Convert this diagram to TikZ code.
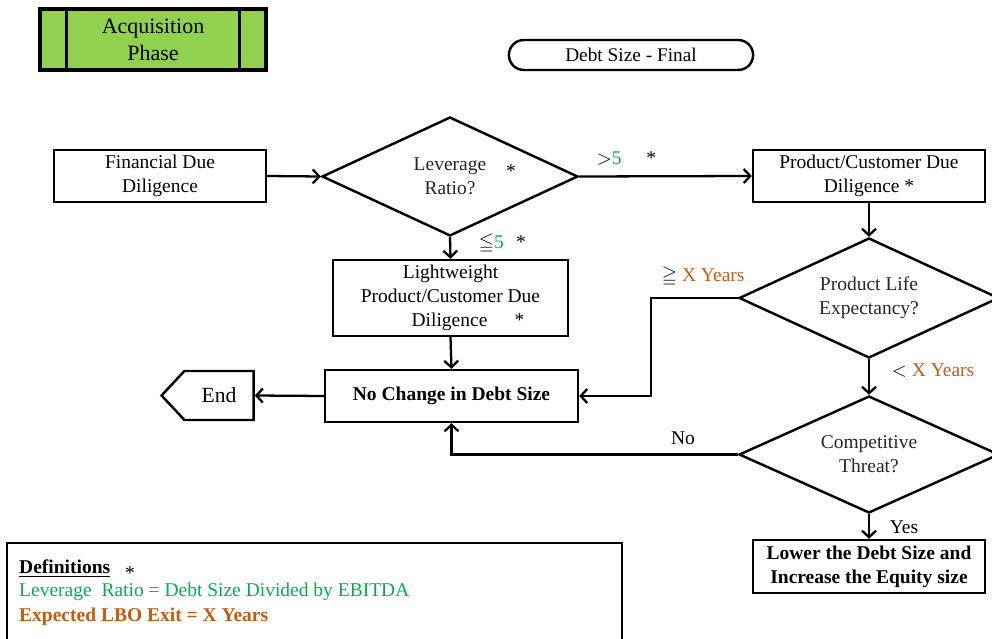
\documentclass[tikz,border=0pt]{standalone}
\usepackage{amsmath}
\usepackage{amssymb}
\usepackage{fontspec}
\setmainfont{Liberation Serif}
\usepackage{xcolor}
\usetikzlibrary{arrows.meta, calc, positioning, shapes.geometric, shapes.misc, shapes.symbols}

\definecolor{acqgreen}{HTML}{92D050}
\definecolor{lvgreen}{HTML}{00B050}
\definecolor{yrorange}{HTML}{C55A11}

\begin{document}
\begin{tikzpicture}[x=0.02cm, y=-0.02cm, line width=1.4pt,
    every node/.style={font=\fontsize{11.1}{13.8}\selectfont},
    box/.style={draw, rectangle, align=center, inner sep=2pt},
    decision/.style={draw, diamond, aspect=2.2, align=center, inner sep=0pt, text=black!85},
    flow/.style={-{Straight Barb[length=1.3mm, width=2.8mm]}, line width=1.3pt},
    lbl/.style={inner sep=1pt}]
        \path[use as bounding box, clip] (0,0) rectangle (992,639);

        % header
        \node[box, fill=acqgreen, line width=2pt, minimum width=4.52cm, minimum height=1.22cm,
              font=\fontsize{12.5}{15.3}\selectfont] (acq) at (153,39.5) {Acquisition\\Phase};
        \draw[line width=2pt] ($(acq.north west)+(28,0)$) -- ($(acq.south west)+(28,0)$);
        \draw[line width=2pt] ($(acq.north east)+(-28,0)$) -- ($(acq.south east)+(-28,0)$);
        \node[draw, rounded rectangle, minimum width=5.12cm, minimum height=0.6cm,
              font=\fontsize{11}{13}\selectfont] (final) at (631,55) {Debt Size - Final};

        % boxes and decisions
        \node[box, minimum width=4.24cm, minimum height=1.04cm] (fdd) at (160,176) {Financial Due\\Diligence};
        \node[decision, minimum width=5.12cm, minimum height=2.38cm] (lev) at (450,176.5) {Leverage\\Ratio?};
        \node[lbl] (levstar) at (511,171) {*};
        \node[box, minimum width=4.64cm, minimum height=1.04cm] (pcdd) at (869,176) {Product/Customer Due\\Diligence *};
        \node[box, minimum width=4.7cm, minimum height=1.52cm] (light) at (450.5,298)
            {Lightweight\\Product/Customer Due\\\hspace*{1.8em}Diligence\hspace{1.4em}*};
        \node[decision, minimum width=5.2cm, minimum height=2.4cm] (ple) at (869,298) {Product Life\\Expectancy?};
        \node[decision, minimum width=5.2cm, minimum height=2.34cm] (ct) at (869,454.5) {Competitive\\Threat?};
        \node[box, minimum width=5.06cm, minimum height=1.04cm, font=\fontsize{11.1}{13.8}\selectfont\bfseries]
            (nochg) at (451.5,396) {No Change in Debt Size};
        \node[box, minimum width=4.64cm, minimum height=1.06cm, font=\fontsize{11.1}{13.8}\selectfont\bfseries]
            (lower) at (869,566.5) {Lower the Debt Size and\\Increase the Equity size};
        \node[draw, signal, signal to=west, signal pointer angle=94, minimum width=1.84cm, minimum height=0.98cm,
              font=\fontsize{12.3}{14}\selectfont] (endn) at (219,395.5) {End};
        \coordinate (bendA) at (651,298);

        % connectors
        \draw[flow] (fdd.east) -- (lev.west);
        \draw[flow] (lev.east) -- (pcdd.west);
        \draw[flow] (lev.south) -- (light.north);
        \draw[flow] (light.south) -- (nochg.north);
        \draw[flow] (pcdd.south) -- (ple.north);
        \draw[flow] (ple.west) -- (bendA) |- (nochg.east);
        \draw[flow] (ple.south) -- (ct.north);
        \draw[flow] (ct.west) -| (nochg.south);
        \draw[flow] (ct.south) -- (lower.north);
        \draw[flow] (nochg.west) -- (endn.east);

        % labels
        \node[lbl, anchor=west] (gtfive) at (594,158) {$>$\textcolor{lvgreen}{5}\hspace{14pt}*};
        \node[lbl, anchor=west] (lefive) at (476,244) {$\leqq$\textcolor{lvgreen}{5}\hspace{7pt}*};
        \node[lbl, anchor=west] (gexy) at (659,277) {$\geqq$ \textcolor{yrorange}{X Years}};
        \node[lbl, anchor=west] (ltxy) at (889,370) {$<$ \textcolor{yrorange}{X Years}};
        \node[lbl] (no) at (683,438) {No};
        \node[lbl] (yes) at (904,527) {Yes};

        % definitions
        \draw (7,543) rectangle (622,690);
        \node[lbl, anchor=west, inner sep=0pt] (defhead) at (18,569) {\textbf{\underline{Definitions}}};
        \node[lbl] (defstar) at (130,573) {*};
        \node[lbl, anchor=west, inner sep=0pt, text=lvgreen] (defone) at (18,592) {Leverage\ \ Ratio = Debt Size Divided by EBITDA};
        \node[lbl, anchor=west, inner sep=0pt, text=yrorange, font=\fontsize{11.1}{13.8}\selectfont\bfseries] (deftwo) at (18,617) {Expected LBO Exit = X Years};
    \end{tikzpicture}
\end{document}
